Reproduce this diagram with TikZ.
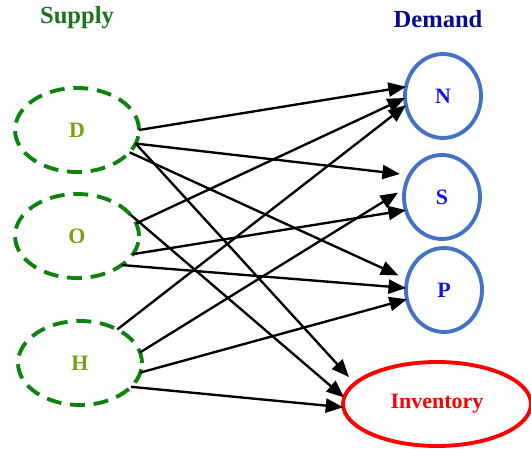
\documentclass[tikz,border=0pt]{standalone}
\usepackage{fontspec}
\setmainfont{Liberation Serif}
\usetikzlibrary{arrows.meta,shapes.geometric}
\definecolor{headgreen}{HTML}{1C741C}
\definecolor{dashgreen}{HTML}{0E820E}
\definecolor{olivegreen}{HTML}{76A016}
\definecolor{headnavy}{HTML}{0A0A8C}
\definecolor{ringblue}{HTML}{4472C4}
\definecolor{letterblue}{HTML}{1414E6}
\begin{document}
\begin{tikzpicture}[x = 0.02cm, y = -0.02cm,
	head/.style = {font = \fontsize{14}{16}\selectfont\bfseries},
	supply/.style = {ellipse, draw = dashgreen, line width = 2.2pt, dash pattern = on 8.5pt off 5pt,
		minimum width = 2.48cm, minimum height = 1.68cm, inner sep = 0pt, outer sep = 0pt,
		text = olivegreen, font = \fontsize{12.5}{14}\selectfont\bfseries},
	demand/.style = {ellipse, draw = ringblue, line width = 2.2pt,
		minimum width = 1.52cm, minimum height = 1.68cm, inner sep = 0pt, outer sep = 0pt,
		text = letterblue, font = \fontsize{12.5}{14}\selectfont\bfseries},
	flow/.style = {black, line width = 1.35pt, -{Triangle[length = 10pt, width = 8pt]}}]
	\useasboundingbox (0,0) rectangle (531,449);
	%
	\node[head, text = headgreen] (suplabel) at (77,18) {Supply};
	\node[head, text = headnavy] (demlabel) at (438,19) {Demand};
	%
	\node[supply] (D) at (77,130) {D};
	\node[supply] (O) at (77,236) {O};
	\node[supply] (H) at (80,363) {H};
	%
	\node[demand] (N) at (443,96) {N};
	\node[demand] (S) at (442,197) {S};
	\node[demand] (P) at (444,290) {P};
	\node[demand, draw = red, text = red, minimum width = 3.76cm] (Inv) at (437,404) {Inventory};
	%
	\draw[flow] (D.0)--(N.166);
	\draw[flow, shorten >= 5.5pt] (D.-13)--(S.146);
	\draw[flow, shorten >= 5.5pt] (D.-23)--(P.164);
	\draw[flow, shorten >= 5pt] (D.-13)--(Inv.166);
	%
	\draw[flow] (O.12)--(N.183);
	\draw[flow] (O.-18)--(S.200);
	\draw[flow] (O.-33)--(P.177);
	\draw[flow] (O.22)--(Inv.176);
	%
	\draw[flow] (H.42)--(N.194);
	\draw[flow, shorten >= 4.5pt] (H.10)--(S.167);
	\draw[flow] (H.-9)--(P.194);
	\draw[flow] (H.-25)--(Inv.182);
	%
\end{tikzpicture}
\end{document}
